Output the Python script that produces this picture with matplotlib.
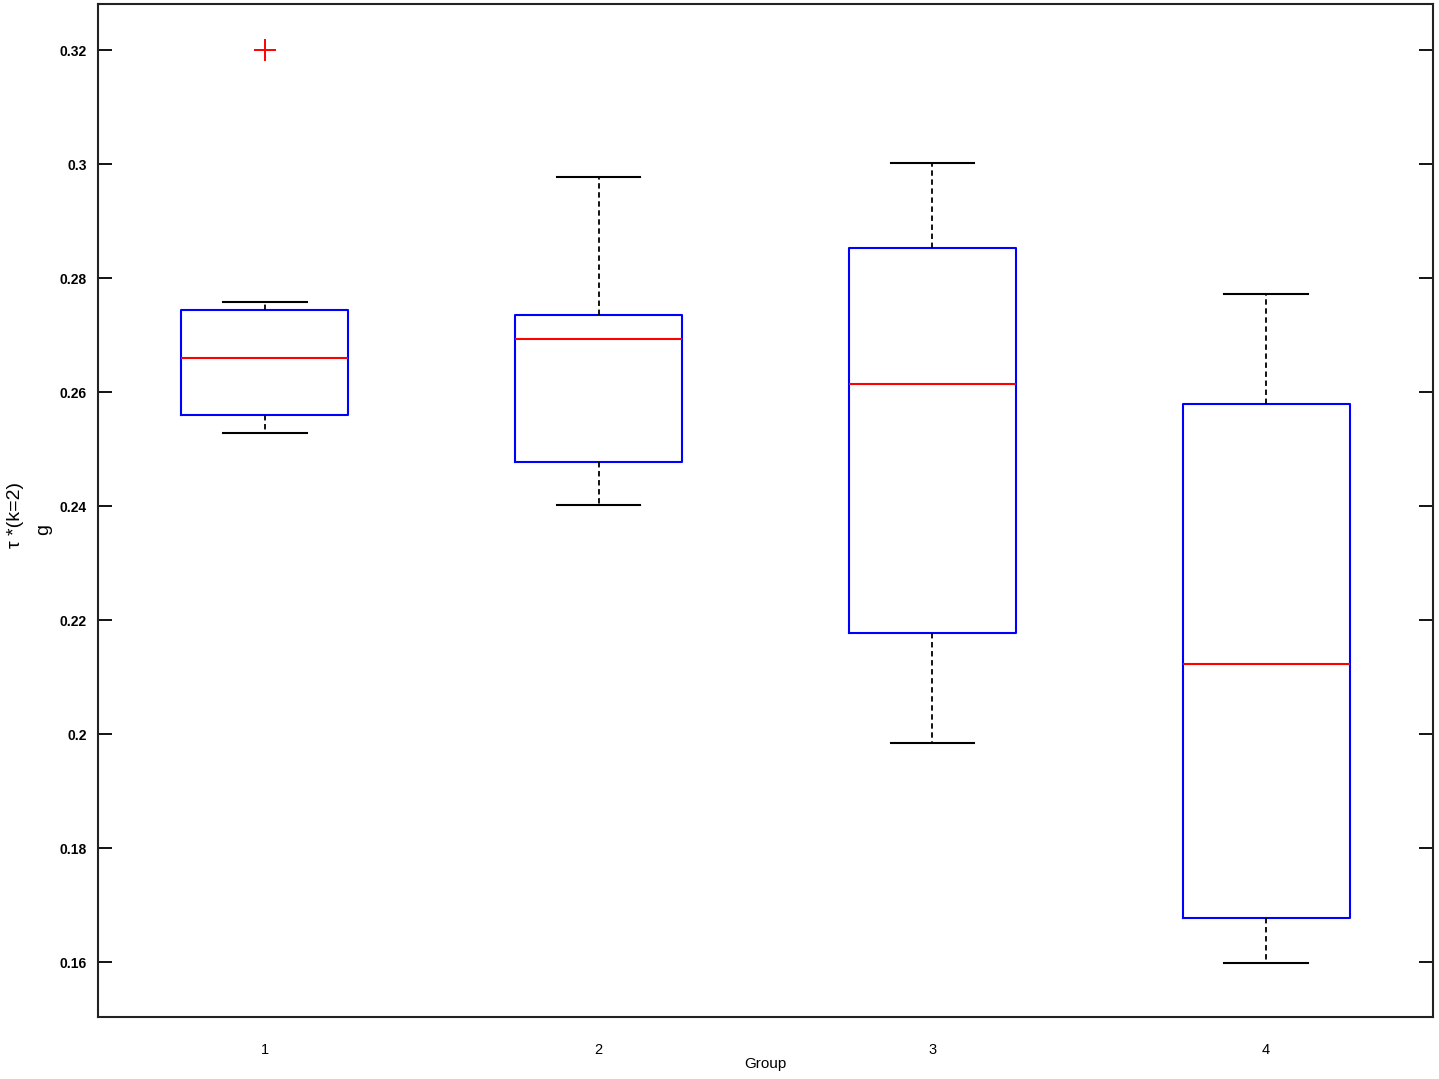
import matplotlib
matplotlib.use("Agg")
import matplotlib.pyplot as plt

plt.rcParams['font.family'] = ['Liberation Sans', 'DejaVu Sans']

groups = ['1', '2', '3', '4']
whislo = [0.2528, 0.2402, 0.1984, 0.1598]
q1 = [0.2560, 0.2477, 0.2177, 0.1677]
med = [0.2660, 0.2693, 0.2614, 0.2123]
q3 = [0.2744, 0.2735, 0.2853, 0.2579]
whishi = [0.2758, 0.2977, 0.3002, 0.2772]
fliers = [[0.32], [], [], []]

stats = []
for i in range(len(groups)):
    stats.append(dict(label=groups[i], whislo=whislo[i], q1=q1[i], med=med[i],
                      q3=q3[i], whishi=whishi[i], fliers=fliers[i]))

fig = plt.figure(figsize=(14.39, 10.79), dpi=100)
ax = fig.add_axes([0.0681, 0.0575, 0.9277, 0.9388])

ax.bxp(stats, widths=0.5, capwidths=0.25,
       boxprops=dict(color='blue', linewidth=1.5),
       medianprops=dict(color='red', linewidth=1.5),
       whiskerprops=dict(color='black', linewidth=1.3, linestyle=(0, (3, 2))),
       capprops=dict(color='black', linewidth=1.5),
       flierprops=dict(marker='+', markeredgecolor='red', markersize=16,
                       markeredgewidth=1.4, linestyle='none'))

ax.set_xlim(0.5, 4.5)
ax.set_ylim(0.1504, 0.3281)
ax.set_yticks([0.16, 0.18, 0.2, 0.22, 0.24, 0.26, 0.28, 0.3, 0.32])
ax.set_yticklabels(['0.16', '0.18', '0.2', '0.22', '0.24', '0.26', '0.28', '0.3', '0.32'],
                   fontweight='bold', fontsize=10)
ax.tick_params(axis='y', direction='in', length=10, width=1.3, right=True, pad=8)
ax.tick_params(axis='x', length=0, pad=19, labelsize=10.5)
for s in ax.spines.values():
    s.set_linewidth(1.5)
    s.set_color('#222222')

ax.set_xlabel('Group', fontsize=11, labelpad=0)
fig.text(0.011, 0.523, 'τ *(k=2)', rotation=90, fontsize=14, ha='center', va='center')
fig.text(0.030, 0.509, 'g', rotation=90, fontsize=14, ha='center', va='center')

fig.savefig('out.png', dpi=100)
